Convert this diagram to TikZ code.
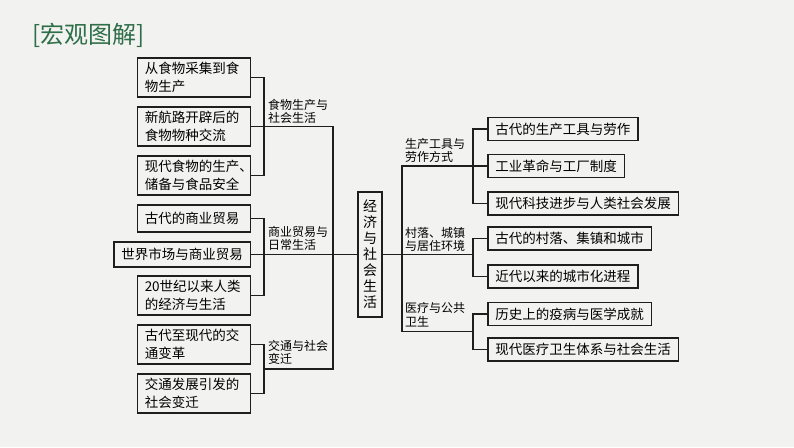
\documentclass[tikz,border=0pt]{standalone}
\usepackage{fontspec}
\newfontfamily\cjk{Noto Sans CJK SC}
\usetikzlibrary{calc}
\definecolor{paper}{RGB}{242,242,240}
\definecolor{titlegreen}{RGB}{46,110,72}
\definecolor{ink}{RGB}{30,30,30}

\begin{document}
\begin{tikzpicture}[x=1pt,y=-1pt,
    box/.style={draw=ink, line width=1.5pt, inner xsep=7.5pt, inner ysep=0pt, font=\cjk\fontsize{13.5}{18}\selectfont},
    lbox/.style={box, anchor=east, align=left, text width=98pt, minimum height=39pt},
    rbox/.style={box, anchor=west, minimum height=23pt},
    lab/.style={anchor=south west, inner sep=0pt, align=left, font=\cjk\fontsize{12}{13.5}\selectfont},
    line/.style={draw=ink, line width=1.1pt}]
        \fill[paper](0,0) rectangle (794,447);
        \node[anchor=west, inner sep=0pt, text=titlegreen, font=\cjk\fontsize{24}{24}\selectfont] (title) at (32,35) {[宏观图解]};
        \node[lbox] (b1) at (251,77.5) {从食物采集到食\\物生产};
        \node[lbox] (b2) at (251,126.5) {新航路开辟后的\\食物物种交流};
        \node[lbox] (b3) at (251,175.5) {现代食物的生产\rlap{、}\\储备与食品安全};
        \node[lbox, minimum height=27pt] (b4) at (251,218.5) {古代的商业贸易};
        \node[box, anchor=east, minimum height=25pt] (b5) at (251,254.5) {世界市场与商业贸易};
        \node[lbox] (b6) at (251,295.5) {20世纪以来人类\\的经济与生活};
        \node[lbox] (b7) at (251,344.5) {古代至现代的交\\通变革};
        \node[lbox] (b8) at (251,393.5) {交通发展引发的\\社会变迁};
        \node[box, inner xsep=5pt, align=center, minimum width=24pt, minimum height=125pt, font=\cjk\fontsize{14}{16}\selectfont] (c) at (370,254.5) {经\\济\\与\\社\\会\\生\\活};
        \node[rbox] (r1) at (487,129) {古代的生产工具与劳作};
        \node[rbox] (r2) at (487,166) {工业革命与工厂制度};
        \node[rbox] (r3) at (487,203.5) {现代科技进步与人类社会发展};
        \node[rbox] (r4) at (487,238.5) {古代的村落、集镇和城市};
        \node[rbox] (r5) at (487,276.5) {近代以来的城市化进程};
        \node[rbox] (r6) at (487,314) {历史上的疫病与医学成就};
        \node[rbox] (r7) at (487,349.5) {现代医疗卫生体系与社会生活};
        \node[lab] (l1) at (268,124) {食物生产与\\社会生活};
        \node[lab] (l2) at (268,251) {商业贸易与\\日常生活};
        \node[lab] (l3) at (268,365) {交通与社会\\变迁};
        \node[lab] (l4) at (405,163) {生产工具与\\劳作方式};
        \node[lab] (l5) at (405,252) {村落、城镇\\与居住环境};
        \node[lab] (l6) at (405,327) {医疗与公共\\卫生};
        \coordinate (lt) at (333,0);
        \coordinate (rt) at (402,0);
        \coordinate (m3) at ($(b7.east)!.5!(b8.east)+(13,0)$);
        \coordinate (m6) at ($(r6.west)!.5!(r7.west)+(-14,0)$);
        \draw[line](b1.east) -- ++(13,0) |- (b3.east);
        \draw[line](b4.east) -- ++(13,0) |- (b6.east);
        \draw[line](b7.east) -- ++(13,0) |- (b8.east);
        \draw[line](b2.east) -| (lt |- m3) -- (m3);
        \draw[line](b5.east) -- (c.west);
        \draw[line](r1.west) -- ++(-14,0) |- (r3.west);
        \draw[line](r4.west) -- ++(-14,0) |- (r5.west);
        \draw[line](r6.west) -- ++(-14,0) |- (r7.west);
        \draw[line](r2.west) -| (rt |- m6) -- (m6);
        \draw[line](c.east) -- (c.east -| m6);
    \end{tikzpicture}
\end{document}
